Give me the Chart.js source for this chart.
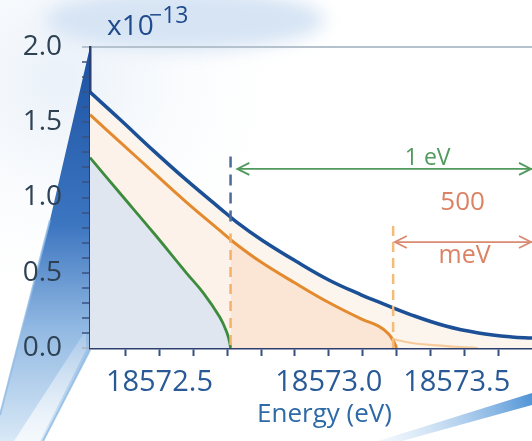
<!DOCTYPE html>
<html><head><meta charset="utf-8">
<script src="https://cdn.jsdelivr.net/npm/chart.js@4/dist/chart.umd.min.js"></script>
<style>html,body{margin:0;padding:0;background:#fff;overflow:hidden}#wrap{width:532px;height:441px;position:relative}</style>
</head><body><div id="wrap"><canvas id="c" width="532" height="441"></canvas></div>
<script>
// ---- data (energy in eV, rate in units of 1e-13) ----
const blueEnergy = [18572.295, 18572.383, 18572.483, 18572.58, 18572.678, 18572.728, 18572.802, 18572.902, 18573.0, 18573.097, 18573.147, 18573.245, 18573.345, 18573.442, 18573.54, 18573.6];
const blueRate   = [1.70, 1.52, 1.31, 1.115, 0.93, 0.837, 0.718, 0.578, 0.452, 0.352, 0.306, 0.219, 0.146, 0.100, 0.073, 0.066];
const orangeEnergy = [18572.295, 18572.383, 18572.483, 18572.58, 18572.678, 18572.728, 18572.802, 18572.902, 18573.0, 18573.097, 18573.147, 18573.176, 18573.192, 18573.2];
const orangeRate   = [1.55, 1.37, 1.165, 0.968, 0.782, 0.688, 0.568, 0.43, 0.302, 0.192, 0.145, 0.095, 0.042, 0];
const orangeTailEnergy = [18573.176, 18573.245, 18573.345, 18573.44];
const orangeTailRate   = [0.066, 0.033, 0.013, 0.0];
const greenEnergy = [18572.295, 18572.383, 18572.483, 18572.58, 18572.63, 18572.678, 18572.698, 18572.707, 18572.71];
const greenRate   = [1.265, 1.03, 0.764, 0.498, 0.365, 0.206, 0.11, 0.04, 0];
const cutoff1eV = 18572.71;
const cutoff500meV = 18573.19;
const blueMarkRange = [0.84, 1.28];
const orangeMark1Range = [0.02, 0.76];
const orangeMark2Range = [0, 0.85];
const arrow1eV = {from: 18572.73, to: 18573.6, level: 1.19};
const arrow500meV = {from: 18573.195, to: 18573.6, level: 0.704};
const xMin = 18572.295, xMax = 18573.6;
const xTickValues = [18572.4, 18572.5, 18572.6, 18572.7, 18572.8, 18572.9, 18573.0, 18573.1, 18573.2, 18573.3, 18573.4, 18573.5, 18573.6];
const xTickLabels = ['', '18572.5', '', '', '', '', '18573.0', '', '', '', '', '18573.5', ''];
const yTickValues = [0, 0.1, 0.2, 0.3, 0.4, 0.5, 0.6, 0.7, 0.8, 0.9, 1.0, 1.1, 1.2, 1.3, 1.4, 1.5, 1.6, 1.7, 1.8, 1.9, 2.0];
const yTickLabels = ['0.0', '', '', '', '', '0.5', '', '', '', '', '1.0', '', '', '', '', '1.5', '', '', '', '', '2.0'];
const annotations = [
  {text: '1 eV', x: 18573.292, y: 1.262, color: '#4f9a5c', size: 23},
  {text: '500', x: 18573.395, y: 0.963, color: '#dc8264', size: 26},
  {text: 'meV', x: 18573.401, y: 0.611, color: '#dc8264', size: 25}
];

const pts = (xs, ys) => xs.map((x, i) => ({x, y: ys[i]}));
const vline = (x, r) => [{x, y: r[0]}, {x, y: r[1]}];

function orangeFill(ctx) {
  const chart = ctx.chart, a = chart.chartArea;
  if (!a) return '#fbe6d6';
  const xp = chart.scales.x.getPixelForValue(cutoff1eV);
  const t = Math.min(1, Math.max(0, (xp - a.left) / (a.right - a.left)));
  const g = chart.ctx.createLinearGradient(a.left, 0, a.right, 0);
  g.addColorStop(0, '#fcf2ea'); g.addColorStop(t, '#fcf2ea');
  g.addColorStop(t, '#fbe5d4'); g.addColorStop(1, '#fbe5d4');
  return g;
}

const decor = {
  id: 'decor',
  beforeDraw(chart) {
    const c = chart.ctx, a = chart.chartArea, W = chart.width, H = chart.height;
    c.save();
    c.fillStyle = '#ffffff'; c.fillRect(0, 0, W, H);
    let g = c.createRadialGradient(60, 80, 10, 60, 80, 240);
    g.addColorStop(0, 'rgba(210,225,242,0.45)'); g.addColorStop(1, 'rgba(255,255,255,0)');
    c.fillStyle = g; c.fillRect(0, 0, W, H);
    c.filter = 'blur(9px)';
    c.fillStyle = 'rgba(212,227,243,0.95)';
    c.beginPath(); c.ellipse(185, 20, 140, 30, 0, 0, Math.PI * 2); c.fill();
    c.filter = 'none';
    // left perspective wedge
    g = c.createLinearGradient(0, a.top, 0, H);
    g.addColorStop(0, '#1b52a3'); g.addColorStop(0.45, '#3c75c0');
    g.addColorStop(0.72, '#93bae3'); g.addColorStop(1, '#d8e8f6');
    c.fillStyle = g;
    c.beginPath();
    c.moveTo(a.left, a.top); c.lineTo(a.left, a.bottom + 2); c.lineTo(43, H);
    c.lineTo(0, H); c.lineTo(0, 415); c.lineTo(50, 220); c.closePath(); c.fill();
    g = c.createLinearGradient(0, 300, 0, H);
    g.addColorStop(0, 'rgba(255,255,255,0)'); g.addColorStop(1, 'rgba(255,255,255,0.75)');
    c.fillStyle = g;
    c.beginPath(); c.moveTo(a.left - 4, 330); c.lineTo(a.left - 4, a.bottom + 2); c.lineTo(40, H); c.lineTo(14, H); c.closePath(); c.fill();
    c.strokeStyle = 'rgba(140,185,228,0.8)'; c.lineWidth = 2;
    c.beginPath(); c.moveTo(a.left, a.bottom + 2); c.lineTo(43, H); c.stroke();
    c.beginPath(); c.moveTo(50, 220); c.lineTo(0, 415); c.stroke();
    // bottom-right streak
    g = c.createLinearGradient(375, H, W, 395);
    g.addColorStop(0, 'rgba(200,222,244,0.2)'); g.addColorStop(1, '#4f93d6');
    c.fillStyle = g;
    c.beginPath(); c.moveTo(378, H); c.lineTo(W, 393); c.lineTo(W, 405); c.lineTo(402, H); c.closePath(); c.fill();
    c.restore();
  },
  afterDatasetsDraw(chart) {
    const c = chart.ctx, xs = chart.scales.x, ys = chart.scales.y;
    c.save();
    const head = (x, y, dir, col) => {
      c.strokeStyle = col; c.lineWidth = 1.8;
      c.beginPath(); c.moveTo(x + dir * 12, y - 6); c.lineTo(x, y); c.lineTo(x + dir * 12, y + 6); c.stroke();
    };
    const y1 = ys.getPixelForValue(arrow1eV.level);
    head(xs.getPixelForValue(arrow1eV.from), y1, 1, '#4f9a5c');
    head(xs.getPixelForValue(arrow1eV.to) - 1, y1, -1, '#4f9a5c');
    const y2 = ys.getPixelForValue(arrow500meV.level);
    head(xs.getPixelForValue(arrow500meV.from), y2, 1, '#d98a70');
    head(xs.getPixelForValue(arrow500meV.to) - 1, y2, -1, '#d98a70');
    c.textAlign = 'center'; c.textBaseline = 'middle';
    annotations.forEach(t => {
      c.font = t.size + 'px "Open Sans"'; c.fillStyle = t.color;
      c.fillText(t.text, xs.getPixelForValue(t.x), ys.getPixelForValue(t.y));
    });
    c.restore();
  },
  afterDraw(chart) {
    const c = chart.ctx;
    c.save();
    c.fillStyle = '#1f4b8c'; c.textBaseline = 'alphabetic'; c.textAlign = 'left';
    c.font = '28px "Open Sans"'; c.fillText('x10', 107, 35);
    c.font = '23px "Open Sans"'; c.fillText('\u221213', 149, 23);
    c.restore();
  }
};

new Chart(document.getElementById('c'), {
  type: 'line',
  data: {
    datasets: [
      {data: vline(cutoff1eV, blueMarkRange), borderColor: '#4a6b9c', borderWidth: 2.5, borderDash: [11, 7], fill: false},
      {data: vline(cutoff1eV, orangeMark1Range), borderColor: '#f2b26c', borderWidth: 2.5, borderDash: [10, 7], fill: false},
      {data: vline(cutoff500meV, orangeMark2Range), borderColor: '#f5bb78', borderWidth: 2.5, borderDash: [10, 6], fill: false},
      {data: [{x: arrow1eV.from, y: arrow1eV.level}, {x: arrow1eV.to, y: arrow1eV.level}], borderColor: '#4f9a5c', borderWidth: 1.8, fill: false},
      {data: [{x: arrow500meV.from, y: arrow500meV.level}, {x: arrow500meV.to, y: arrow500meV.level}], borderColor: '#d98a70', borderWidth: 1.8, fill: false},
      {data: pts(greenEnergy, greenRate), borderColor: '#3d8b3d', borderWidth: 2.8, fill: 'origin', backgroundColor: '#dfe6ef', tension: 0.4},
      {data: pts(orangeEnergy, orangeRate), borderColor: '#e38a2e', borderWidth: 3, fill: 'origin', backgroundColor: orangeFill, tension: 0.4},
      {data: pts(orangeTailEnergy, orangeTailRate), borderColor: 'rgba(245,188,125,0.75)', borderWidth: 2.2, fill: false, tension: 0.4},
      {data: pts(blueEnergy, blueRate), borderColor: '#1b4f96', borderWidth: 3.5, fill: 'origin', backgroundColor: '#fcf5ee', tension: 0.4}
    ]
  },
  options: {
    responsive: false, animation: false, devicePixelRatio: 1,
    layout: {padding: {top: 47, right: 0, left: 0, bottom: 0}},
    plugins: {legend: {display: false}, tooltip: {enabled: false}},
    elements: {point: {radius: 0}, line: {borderCapStyle: 'butt'}},
    scales: {
      x: {
        type: 'linear', min: xMin, max: xMax,
        afterBuildTicks: s => { s.ticks = xTickValues.map(v => ({value: v})); },
        afterFit: s => { s.height = 93; s.paddingLeft = 0; s.paddingRight = 0; },
        border: {color: '#2c3f6e', width: 2.5},
        grid: {drawOnChartArea: false, drawTicks: true, tickLength: 8, tickWidth: 2,
               tickColor: ctx => ctx.index === xTickValues.length - 1 ? 'rgba(0,0,0,0)' : '#34507f'},
        ticks: {autoSkip: false, maxRotation: 0, minRotation: 0, padding: 9, color: '#2a5a96',
                font: {family: 'Open Sans', size: 29},
                callback: (v, i) => xTickLabels[i] + (i === 11 ? '           ' : '')},
        title: {display: true, text: '    Energy (eV)', color: '#2e6aa6', font: {family: 'Open Sans', size: 26}, padding: {top: 0, bottom: 11}}
      },
      y: {
        min: 0, max: 2,
        afterBuildTicks: s => { s.ticks = yTickValues.map(v => ({value: v})); },
        afterFit: s => { s.width = 90; },
        border: {color: '#2c3f6e', width: 2.5},
        grid: {drawOnChartArea: true, drawTicks: true, tickLength: 8, lineWidth: 2,
               color: ctx => (ctx.tick && Math.abs(ctx.tick.value - 2) < 1e-6) ? '#b6c1ce' : 'rgba(0,0,0,0)',
               tickColor: ctx => (ctx.tick && (Math.abs(ctx.tick.value - 2) < 1e-6 || Math.abs(ctx.tick.value) < 1e-6)) ? '#a9b5c3' : '#3a5080',
               tickWidth: 1.5},
        ticks: {autoSkip: false, padding: 20, color: '#2f4254', font: {family: 'Open Sans', size: 28},
                callback: (v, i) => yTickLabels[i]}
      }
    }
  },
  plugins: [decor]
});
</script></body></html>
